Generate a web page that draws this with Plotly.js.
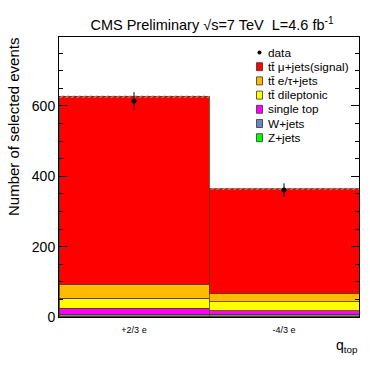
<!DOCTYPE html>
<html><head><meta charset="utf-8">
<script src="https://cdn.plot.ly/plotly-3.0.1.min.js"></script>
<style>html,body{margin:0;padding:0;background:#fff}#plot{width:374px;height:365px}</style>
</head><body><div id="plot"></div>
<script>
// ---- data ----
const categories = ["+2/3 e", "-4/3 e"];
const zjets      = [2, 2];
const wjets      = [6, 6];
const singleTop  = [17, 10];
const dilepton   = [29, 25];
const etaujets   = [39, 24];
const signal     = [535, 297];
const dataVals   = [614, 361];
const dataErr    = [25, 19];
const mcErr      = [4, 3];

const seriesNames  = ["Z+jets", "W+jets", "single top", "t\u0074\u0304 dileptonic", "t\u0074\u0304 e/\u03c4+jets", "t\u0074\u0304 \u03bc+jets(signal)"];
const seriesValues = [zjets, wjets, singleTop, dilepton, etaujets, signal];
const seriesColors = ["#00ff00", "#6b87c6", "#ff00ff", "#ffff00", "#ffbb00", "#ff0000"];

const traces = [];
seriesValues.forEach((v, i) => {
  traces.push({
    type: "bar", x: categories, y: v, name: seriesNames[i],
    marker: {color: seriesColors[i], line: {color: "#5a3a10", width: 0.8}},
    showlegend: false, hoverinfo: "skip"
  });
});
// MC uncertainty band on top of the stack
const totals = categories.map((c, k) => seriesValues.reduce((s, arr) => s + arr[k], 0));
traces.push({
  type: "bar", x: categories,
  base: totals.map((t, k) => t - mcErr[k]),
  y: mcErr.map(e => 2 * e),
  marker: {color: "rgba(0,0,0,0)", line: {width: 0},
           pattern: {shape: "/", fgcolor: "#b0b0b0", bgcolor: "rgba(0,0,0,0)", size: 4, solidity: 0.25}},
  showlegend: false, hoverinfo: "skip"
});
traces.push({
  type: "scatter", mode: "markers", x: categories, y: dataVals,
  error_y: {type: "data", array: dataErr, visible: true, color: "#000", thickness: 1, width: 0},
  marker: {color: "#000", size: 5}, showlegend: false, hoverinfo: "skip"
});

// ---- legend built from the same names/colours ----
const W = 374, H = 365, L = 59, T = 37, PW = 300, PH = 280;
const px = v => (v - L) / PW;
const py = v => (T + PH - v) / PH;
const legendNames  = ["data"].concat(seriesNames.slice().reverse());
const legendColors = [null].concat(seriesColors.slice().reverse());
const shapes = [], annotations = [];
legendNames.forEach((n, i) => {
  const yc = 52.5 + i * 14.2;
  if (legendColors[i] === null) {
    shapes.push({type: "circle", xref: "paper", yref: "paper",
      x0: px(257.5), x1: px(261.5), y0: py(yc + 2), y1: py(yc - 2),
      fillcolor: "#000", line: {width: 0}});
  } else {
    shapes.push({type: "rect", xref: "paper", yref: "paper",
      x0: px(256.5), x1: px(262.5), y0: py(yc + 4), y1: py(yc - 4),
      fillcolor: legendColors[i], line: {color: "#333", width: 0.8}});
  }
  annotations.push({xref: "paper", yref: "paper", x: px(266), y: py(yc),
    xanchor: "left", yanchor: "middle", showarrow: false, text: n,
    font: {family: "Liberation Sans, Arial, sans-serif", size: 11.8, color: "#000"}});
});
annotations.push({xref: "paper", yref: "paper", x: px(360), y: py(346),
  xanchor: "right", yanchor: "middle", showarrow: false, text: "q<sub>top</sub>",
  font: {family: "Liberation Sans, Arial, sans-serif", size: 14, color: "#000"}});
annotations.push({xref: "paper", yref: "paper", x: px(14), y: py(127),
  xanchor: "center", yanchor: "middle", showarrow: false, textangle: -90,
  text: "Number of selected events",
  font: {family: "Liberation Sans, Arial, sans-serif", size: 15, color: "#000"}});

const layout = {
  width: W, height: H, paper_bgcolor: "#fff", plot_bgcolor: "#fff",
  margin: {l: L, r: W - L - PW, t: T, b: H - T - PH, pad: 0},
  barmode: "stack", bargap: 0,
  font: {family: "Liberation Sans, Arial, sans-serif", color: "#000"},
  title: {text: "CMS Preliminary \u221as=7 TeV  L=4.6 fb<sup>-1</sup>",
    xref: "paper", x: 0.51, xanchor: "center", yref: "container", y: 1 - 25 / H, yanchor: "middle",
    font: {size: 14.5, color: "#000"}},
  xaxis: {type: "category", range: [-0.5, 1.5], showgrid: false, zeroline: false,
    showline: true, linecolor: "#000", linewidth: 1, mirror: true, ticks: "",
    tickfont: {size: 9}, ticklabelstandoff: 4},
  yaxis: {range: [0, 796], showgrid: false, zeroline: false,
    showline: true, linecolor: "#000", linewidth: 1, mirror: "allticks",
    ticks: "inside", ticklen: 8, tickcolor: "#000", dtick: 200, tick0: 0,
    minor: {dtick: 50, ticks: "inside", ticklen: 4, tickcolor: "#000", showgrid: false},
    tickfont: {size: 14}},
  shapes: shapes, annotations: annotations, showlegend: false
};
Plotly.newPlot("plot", traces, layout, {staticPlot: true});
</script></body></html>
